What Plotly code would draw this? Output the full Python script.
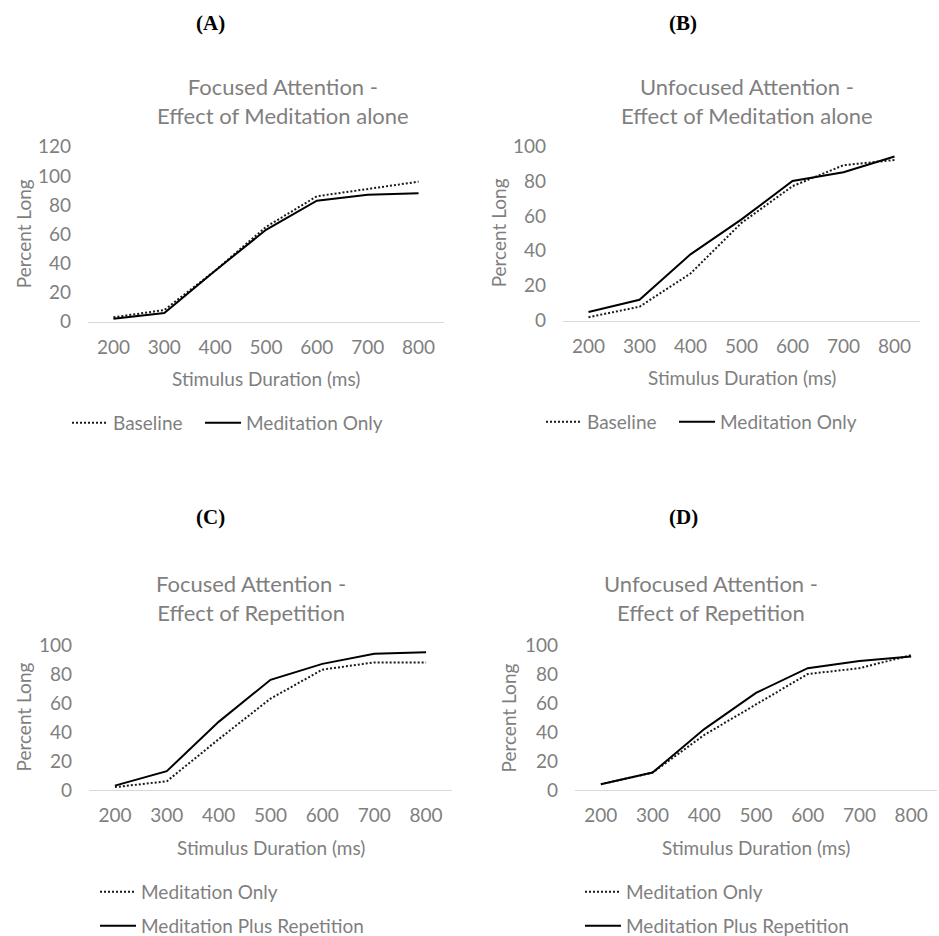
import plotly.graph_objects as go

# Stimulus durations (ms) shared by all four panels
durations = [200, 300, 400, 500, 600, 700, 800]

# (A) Focused attention - effect of meditation alone
a_baseline = [3, 8, 35, 65, 86, 91, 96]
a_meditation_only = [2, 6, 35, 63, 83, 87, 88]

# (B) Unfocused attention - effect of meditation alone
b_baseline = [2, 8, 27, 56, 77, 89, 92]
b_meditation_only = [5, 12, 38, 58, 80, 85, 94]

# (C) Focused attention - effect of repetition
c_meditation_only = [2, 6, 35, 63, 83, 88, 88]
c_meditation_rep = [3, 13, 47, 76, 87, 94, 95]

# (D) Unfocused attention - effect of repetition
d_meditation_only = [4, 12, 38, 59, 80, 84, 93]
d_meditation_rep = [4, 12, 42, 67, 84, 89, 92]

W, H = 939, 936
FONT = "Lato, 'Open Sans', sans-serif"
GREY = "#7f7f7f"
TICK_SIZE = 19
TITLE_SIZE = 22


def px_x(v):
    return v / W


def px_y(v):
    return 1 - v / H


DOTTED = dict(color="#1a1a1a", width=2, dash="2px,2px")
SOLID = dict(color="#000000", width=2)

# panel geometry in pixels: x-left, x-right, y of top tick, y of zero line
panels = [
    dict(key="", x0=88, x1=444, ytop=146.7, ybot=321.7, ymax=120),
    dict(key="2", x0=563, x1=920, ytop=146.0, ybot=320.7, ymax=100),
    dict(key="3", x0=89, x1=452, ytop=645.0, ybot=790.0, ymax=100),
    dict(key="4", x0=575, x1=937, ytop=645.0, ybot=790.0, ymax=100),
]

series = [
    (0, "Baseline", a_baseline, DOTTED, "legend"),
    (0, "Meditation Only", a_meditation_only, SOLID, "legend2"),
    (1, "Baseline", b_baseline, DOTTED, "legend3"),
    (1, "Meditation Only", b_meditation_only, SOLID, "legend4"),
    (2, "Meditation Only", c_meditation_only, DOTTED, "legend5"),
    (2, "Meditation Plus Repetition", c_meditation_rep, SOLID, "legend6"),
    (3, "Meditation Only", d_meditation_only, DOTTED, "legend7"),
    (3, "Meditation Plus Repetition", d_meditation_rep, SOLID, "legend8"),
]

fig = go.Figure()
for idx, name, vals, line, leg in series:
    k = panels[idx]["key"]
    fig.add_trace(go.Scatter(
        x=durations, y=vals, mode="lines", name=name, line=line,
        xaxis="x" + k, yaxis="y" + k, legend=leg, showlegend=True,
    ))

layout = dict(
    width=W, height=H,
    margin=dict(l=0, r=0, t=0, b=0, autoexpand=False),
    paper_bgcolor="white", plot_bgcolor="white",
    font=dict(family=FONT, color=GREY, size=TICK_SIZE),
)

for p in panels:
    k = p["key"]
    layout["xaxis" + k] = dict(
        domain=[px_x(p["x0"]), px_x(p["x1"])],
        anchor="y" + k,
        range=[150, 850],
        tickvals=durations,
        ticktext=[str(d) for d in durations],
        showgrid=False, zeroline=False,
        showline=True, linecolor="#d9d9d9", linewidth=1,
        ticks="", ticklabelstandoff=8,
        tickfont=dict(family=FONT, color=GREY, size=TICK_SIZE),
        fixedrange=True,
    )
    layout["yaxis" + k] = dict(
        domain=[px_y(p["ybot"]), px_y(p["ytop"])],
        anchor="x" + k,
        range=[0, p["ymax"]],
        dtick=20,
        showgrid=False, zeroline=False, showline=False,
        ticks="", ticklabelstandoff=16,
        tickfont=dict(family=FONT, color=GREY, size=TICK_SIZE),
        fixedrange=True,
    )

# one legend box per entry, placed under its panel
legend_pos = {
    "legend": (67, 423),
    "legend2": (200, 423),
    "legend3": (541, 422),
    "legend4": (674, 422),
    "legend5": (95, 892),
    "legend6": (95, 926),
    "legend7": (580, 892),
    "legend8": (580, 926),
}
for leg, (lx, ly) in legend_pos.items():
    layout[leg] = dict(
        x=px_x(lx), y=px_y(ly), xanchor="left", yanchor="middle",
        orientation="h", bgcolor="rgba(0,0,0,0)", borderwidth=0,
        itemwidth=36,
        font=dict(family=FONT, color=GREY, size=TICK_SIZE),
    )

fig.update_layout(**layout)

annotations = []

# panel letters
for text, x, y in [("(A)", 210, 23), ("(B)", 683, 23), ("(C)", 210, 517), ("(D)", 683, 517)]:
    annotations.append(dict(
        text="<b>%s</b>" % text, x=px_x(x), y=px_y(y), xref="paper", yref="paper",
        showarrow=False, xanchor="center", yanchor="middle",
        font=dict(family="'Liberation Serif', 'Times New Roman', serif", size=21, color="black"),
    ))

# chart titles
for text, x, y in [
    ("Focused Attention -<br>Effect of Meditation alone", 283, 101),
    ("Unfocused Attention -<br>Effect of Meditation alone", 747, 101),
    ("Focused Attention -<br>Effect of Repetition", 251, 598),
    ("Unfocused Attention -<br>Effect of Repetition", 711, 598),
]:
    annotations.append(dict(
        text=text, x=px_x(x), y=px_y(y), xref="paper", yref="paper",
        showarrow=False, xanchor="center", yanchor="middle",
        font=dict(family=FONT, size=TITLE_SIZE, color=GREY),
    ))

# axis titles
for p, yx, xt_y in [
    (panels[0], 23, 378),
    (panels[1], 498, 377),
    (panels[2], 23, 847),
    (panels[3], 508, 847),
]:
    annotations.append(dict(
        text="Stimulus Duration (ms)", x=px_x((p["x0"] + p["x1"]) / 2), y=px_y(xt_y),
        xref="paper", yref="paper", showarrow=False, xanchor="center", yanchor="middle",
        font=dict(family=FONT, size=TICK_SIZE, color=GREY),
    ))
    annotations.append(dict(
        text="Percent Long", x=px_x(yx), y=px_y((p["ytop"] + p["ybot"]) / 2),
        xref="paper", yref="paper", showarrow=False, xanchor="center", yanchor="middle",
        textangle=-90, font=dict(family=FONT, size=TICK_SIZE, color=GREY),
    ))

fig.update_layout(annotations=annotations)
fig.write_html("out.html")
